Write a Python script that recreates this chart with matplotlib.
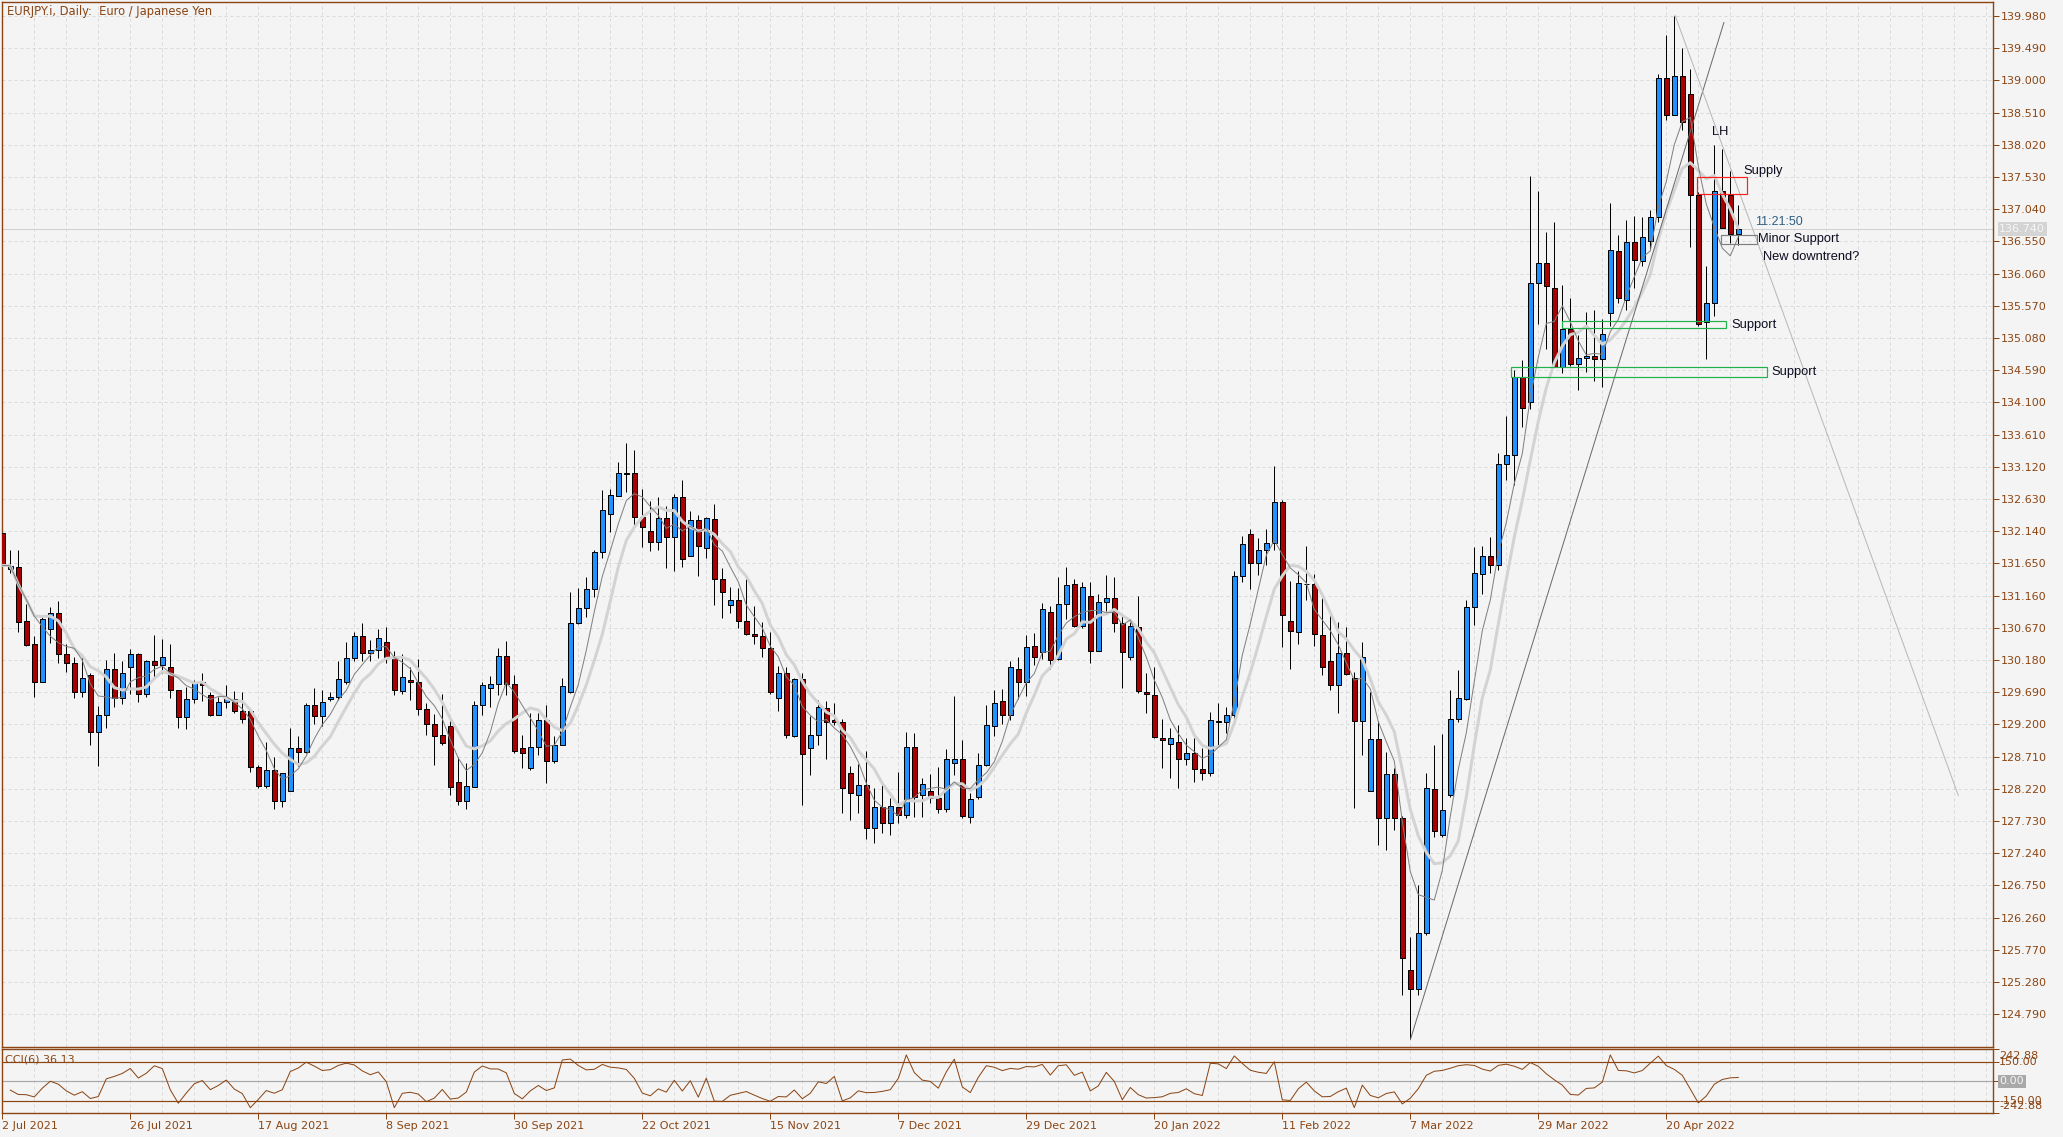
import matplotlib
matplotlib.use("Agg")
import matplotlib.pyplot as plt
import matplotlib.transforms as mtransforms
from matplotlib.patches import Rectangle
import numpy as np
import pandas as pd

# ---------------- data ----------------
opens = [132.12, 131.56, 131.60, 130.77, 130.42, 129.85, 130.65, 130.89, 130.27, 130.13,
         129.70, 129.95, 129.09, 129.35, 130.04, 129.60, 130.07, 130.27, 129.67, 130.16,
         130.11, 130.07, 129.72, 129.32, 129.58, 129.84, 129.65, 129.35, 129.54, 129.58,
         129.41, 129.40, 128.55, 128.27, 128.50, 128.04, 128.18, 128.84, 128.78, 129.49,
         129.33, 129.58, 129.62, 129.85, 130.21, 130.55, 130.28, 130.34, 130.46, 130.22,
         129.71, 129.87, 129.85, 129.43, 129.20, 129.04, 129.18, 128.32, 128.03, 128.25,
         129.49, 129.76, 129.81, 130.24, 129.82, 128.84, 128.54, 128.86, 129.26, 128.65,
         128.88, 129.70, 130.74, 130.97, 131.26, 131.82, 132.40, 132.68, 133.01, 133.02,
         132.36, 132.15, 131.97, 132.34, 132.05, 132.66, 131.77, 132.31, 131.89, 132.32,
         131.42, 131.01, 131.10, 130.78, 130.58, 130.54, 130.37, 129.60, 129.98, 129.02,
         129.89, 128.84, 129.04, 129.45, 129.26, 129.23, 128.46, 128.12, 128.28, 127.62,
         127.95, 127.70, 127.95, 127.82, 128.85, 128.12, 128.18, 128.08, 127.91, 128.62,
         128.67, 127.79, 128.10, 128.59, 129.18, 129.56, 129.35, 130.05, 129.84, 130.40,
         130.30, 130.91, 130.19, 131.04, 131.33, 130.70, 131.16, 130.31, 131.07, 131.13,
         130.75, 130.22, 130.69, 129.69, 129.65, 129.00, 128.90, 128.94, 128.67, 128.77,
         128.52, 128.46, 129.23, 129.23, 129.35, 131.46, 132.10, 131.65, 131.85, 131.96,
         132.59, 130.77, 130.60, 131.33, 131.34, 130.56, 130.17, 129.80, 130.28, 129.91,
         129.25, 128.18, 128.98, 127.78, 128.44, 127.78, 125.47, 125.17, 126.02, 128.22,
         127.51, 128.13, 129.28, 129.59, 130.99, 131.49, 131.76, 131.62, 133.17, 133.30,
         134.49, 134.10, 135.91, 136.22, 135.84, 134.64, 135.21, 134.69, 134.77, 134.81,
         134.76, 135.46, 136.40, 135.66, 136.54, 136.25, 136.55, 136.92, 139.03, 138.48,
         139.07, 138.79, 137.25, 135.32, 135.61, 137.32, 137.26, 136.66]

highs = [132.14, 131.85, 131.85, 131.03, 130.54, 130.84, 130.98, 131.08, 130.42, 130.22,
         130.27, 129.99, 129.48, 130.18, 130.28, 130.17, 130.35, 130.28, 130.18, 130.56,
         130.50, 130.42, 129.73, 129.77, 129.87, 129.98, 129.70, 129.62, 129.80, 129.71,
         129.69, 129.42, 128.58, 128.93, 128.71, 128.46, 129.14, 129.02, 129.52, 129.76,
         129.73, 129.70, 130.17, 130.46, 130.60, 130.74, 130.49, 130.65, 130.69, 130.32,
         130.27, 130.08, 130.19, 129.52, 129.36, 129.66, 129.27, 128.71, 128.61, 129.55,
         129.85, 129.94, 130.37, 130.47, 129.95, 129.04, 129.37, 129.38, 129.50, 129.02,
         129.91, 131.22, 131.27, 131.45, 131.86, 132.77, 132.78, 133.19, 133.48, 133.38,
         132.79, 132.60, 132.66, 132.52, 132.71, 132.92, 132.45, 132.39, 132.36, 132.55,
         131.58, 131.29, 131.27, 131.41, 131.00, 130.76, 130.60, 130.09, 130.08, 129.91,
         129.98, 129.33, 129.57, 129.55, 129.52, 129.28, 128.57, 128.60, 128.79, 128.23,
         128.34, 128.08, 128.47, 129.09, 129.07, 128.39, 128.45, 128.55, 128.83, 129.63,
         128.97, 128.15, 128.76, 129.50, 129.72, 129.74, 130.16, 130.22, 130.56, 130.59,
         131.05, 131.00, 131.45, 131.59, 131.42, 131.36, 131.36, 131.19, 131.47, 131.44,
         130.85, 130.81, 131.16, 129.98, 130.08, 129.29, 129.14, 129.19, 129.00, 129.00,
         128.84, 129.39, 129.53, 129.47, 131.54, 132.07, 132.17, 132.04, 132.17, 133.14,
         132.62, 131.39, 131.54, 131.91, 131.49, 131.12, 130.89, 130.76, 130.68, 130.00,
         130.45, 129.70, 129.25, 128.78, 128.53, 127.80, 125.97, 126.76, 128.46, 128.88,
         129.05, 129.72, 130.03, 131.10, 131.90, 131.92, 132.05, 133.33, 133.89, 134.60,
         134.75, 137.55, 137.32, 136.69, 136.84, 135.89, 135.69, 135.13, 135.48, 135.51,
         135.37, 137.14, 136.65, 136.88, 136.93, 136.92, 137.03, 139.09, 139.69, 139.98,
         139.49, 139.18, 137.30, 136.17, 138.01, 137.96, 137.62, 137.10]

lows = [131.58, 131.51, 130.61, 130.40, 129.61, 129.84, 130.44, 130.13, 130.00, 129.60,
        129.62, 128.88, 128.57, 129.14, 129.47, 129.51, 129.67, 129.54, 129.61, 129.89,
        129.98, 129.60, 129.15, 129.13, 129.53, 129.56, 129.33, 129.34, 129.45, 129.38,
        129.22, 128.48, 128.23, 128.23, 127.92, 127.94, 128.18, 128.57, 128.76, 129.21,
        129.17, 129.56, 129.57, 129.82, 130.16, 130.16, 130.16, 130.21, 130.14, 129.65,
        129.66, 129.57, 129.34, 129.04, 128.58, 128.89, 128.13, 127.97, 127.91, 128.25,
        129.34, 129.47, 129.65, 129.65, 128.77, 128.53, 128.50, 128.73, 128.31, 128.61,
        128.88, 129.68, 130.73, 130.84, 131.14, 131.74, 132.13, 132.67, 132.73, 132.23,
        131.90, 131.84, 131.85, 131.58, 131.54, 131.60, 131.77, 131.46, 131.74, 131.01,
        130.82, 130.89, 130.67, 130.56, 130.42, 130.22, 129.67, 129.40, 128.99, 129.01,
        127.97, 128.43, 128.89, 128.68, 129.19, 127.85, 127.75, 127.85, 127.45, 127.40,
        127.55, 127.52, 127.70, 127.77, 127.79, 127.79, 128.00, 127.85, 127.87, 128.43,
        127.77, 127.70, 128.06, 128.57, 129.02, 129.21, 129.27, 129.59, 129.64, 130.11,
        130.20, 130.05, 130.18, 130.81, 130.69, 130.66, 130.14, 130.31, 130.93, 130.61,
        129.76, 130.18, 129.68, 129.38, 129.00, 128.54, 128.39, 128.24, 128.58, 128.32,
        128.35, 128.41, 128.87, 129.07, 129.20, 131.37, 131.26, 131.47, 131.62, 131.86,
        130.38, 130.05, 130.42, 131.10, 130.40, 129.95, 129.73, 129.37, 129.95, 127.93,
        128.73, 128.18, 127.36, 127.29, 127.59, 125.09, 124.42, 125.09, 126.00, 127.49,
        127.49, 128.10, 129.23, 129.57, 130.72, 131.18, 131.50, 131.55, 132.92, 132.85,
        133.72, 134.00, 135.30, 134.91, 134.64, 134.55, 134.65, 134.29, 134.57, 134.42,
        134.34, 135.26, 135.61, 135.51, 135.84, 136.17, 136.44, 136.84, 138.39, 138.48,
        138.25, 136.47, 135.27, 134.76, 135.42, 136.76, 136.52, 136.50]

closes = [131.62, 131.61, 130.76, 130.41, 129.85, 130.80, 130.89, 130.27, 130.13, 129.70,
          129.90, 129.09, 129.35, 130.04, 129.60, 129.98, 130.27, 129.67, 130.16, 130.11,
          130.22, 129.72, 129.32, 129.58, 129.85, 129.80, 129.35, 129.54, 129.60, 129.41,
          129.28, 128.55, 128.27, 128.50, 128.04, 128.46, 128.84, 128.78, 129.49, 129.33,
          129.54, 129.62, 129.89, 130.21, 130.55, 130.28, 130.34, 130.52, 130.23, 129.72,
          129.92, 129.85, 129.43, 129.20, 129.03, 128.92, 128.25, 128.03, 128.26, 129.50,
          129.80, 129.81, 130.24, 129.82, 128.80, 128.77, 128.86, 129.26, 128.65, 128.88,
          129.79, 130.74, 130.97, 131.26, 131.82, 132.47, 132.69, 133.02, 133.03, 132.35,
          132.21, 131.97, 132.34, 132.05, 132.66, 131.71, 132.31, 131.91, 132.34, 131.42,
          131.21, 131.10, 130.78, 130.57, 130.54, 130.36, 129.70, 129.98, 129.04, 129.89,
          128.75, 129.04, 129.46, 129.24, 129.24, 128.24, 128.15, 128.28, 127.62, 127.95,
          127.70, 127.96, 127.82, 128.85, 128.10, 128.29, 128.08, 127.91, 128.68, 128.67,
          127.80, 128.06, 128.59, 129.19, 129.52, 129.35, 130.07, 129.84, 130.38, 130.23,
          130.95, 130.18, 131.04, 131.32, 130.70, 131.29, 130.31, 131.07, 131.13, 130.75,
          130.30, 130.70, 129.71, 129.66, 129.01, 128.97, 129.00, 128.67, 128.77, 128.52,
          128.46, 129.26, 129.25, 129.35, 131.46, 131.95, 131.65, 131.86, 131.96, 132.59,
          130.87, 130.62, 131.35, 131.34, 130.57, 130.07, 129.80, 130.28, 129.97, 129.25,
          130.23, 128.98, 127.78, 128.44, 127.78, 125.64, 125.17, 126.02, 128.23, 127.58,
          127.90, 129.28, 129.60, 130.99, 131.50, 131.76, 131.62, 133.17, 133.30, 134.49,
          134.02, 135.91, 136.22, 135.87, 134.64, 135.21, 134.69, 134.77, 134.80, 134.76,
          135.14, 136.42, 135.69, 136.54, 136.27, 136.61, 136.92, 139.03, 138.48, 139.07,
          138.36, 137.25, 135.30, 135.61, 137.32, 136.76, 136.66, 136.74]

date_labels = ["2 Jul 2021", "26 Jul 2021", "17 Aug 2021", "8 Sep 2021", "30 Sep 2021",
               "22 Oct 2021", "15 Nov 2021", "7 Dec 2021", "29 Dec 2021", "20 Jan 2022",
               "11 Feb 2022", "7 Mar 2022", "29 Mar 2022", "20 Apr 2022"]
date_label_bars = [0, 16, 32, 48, 64, 80, 96, 112, 128, 144, 160, 176, 192, 208]

price_tick_labels = ["124.790", "125.280", "125.770", "126.260", "126.750", "127.240",
                     "127.730", "128.220", "128.710", "129.200", "129.690", "130.180",
                     "130.670", "131.160", "131.650", "132.140", "132.630", "133.120",
                     "133.610", "134.100", "134.590", "135.080", "135.570", "136.060",
                     "136.550", "137.040", "137.530", "138.020", "138.510", "139.000",
                     "139.490", "139.980"]

current_price = 136.740
cci_period = 6
cci_levels = [150.0, -150.0]
cci_limit = 242.88
cci_title = "CCI(6) 36.13"
title = "EURJPY.i, Daily:  Euro / Japanese Yen"

# annotations (bar index / price)
supply_zone = (211.8, 218.05, 137.27, 137.535)
support_zone_1 = (194.9, 215.4, 135.23, 135.34)
support_zone_2 = (188.6, 220.55, 134.49, 134.635)
minor_support_zone = (214.8, 219.3, 136.505, 136.64)
uptrend_line = ([176.05, 215.2], [124.42, 139.88])
downtrend_line = ([209.1, 244.5], [139.99, 128.12])

# ---------------- styling ----------------
BG = "#f4f4f4"
BROWN = "#8b4513"
GRID = "#d9d9d9"
BLUE = "#1e90ff"
RED = "#a80000"
PX = 0.72  # one pixel in points at dpi 100

W, H = 2063, 1137
plt.rcParams['font.family'] = ['DejaVu Sans']
fig = plt.figure(figsize=(W / 100, H / 100), dpi=100, facecolor=BG)

def ax_rect(x0, y0, x1, y1):
    return [x0 / W, 1 - y1 / H, (x1 - x0) / W, (y1 - y0) / H]

ax = fig.add_axes(ax_rect(2.3, 2.3, 1993.3, 1047))
axc = fig.add_axes(ax_rect(2.3, 1049.3, 1993.3, 1113.3))

n = len(closes)
x = np.arange(n)
o = np.array(opens); h = np.array(highs); l = np.array(lows); c = np.array(closes)
xmax = (1993.3 - 2.3) / 8.0

for a in (ax, axc):
    a.set_facecolor(BG)
    for s in a.spines.values():
        s.set_color(BROWN)
        s.set_linewidth(1.4 * PX)
    a.set_xlim(0, xmax)

# main panel
ax.set_ylim(124.2915, 140.1885)
ptick_vals = [float(t) for t in price_tick_labels]
ax.yaxis.tick_right()
ax.set_yticks(ptick_vals)
ax.set_yticklabels(price_tick_labels)
ax.tick_params(axis='y', direction='out', length=4, width=PX, colors=BROWN,
               labelsize=8, pad=1.5)
ax.set_xticks(np.arange(4, xmax, 4))
ax.set_xticklabels([])
ax.tick_params(axis='x', length=0)
ax.grid(True, color=GRID, linestyle=(0, (3, 3)), linewidth=PX)
ax.set_axisbelow(True)

ax.axhline(current_price, color="#d0d0d0", lw=PX, zorder=1.5)

# candles
ax.vlines(x, l, h, color="black", lw=PX, zorder=2)
colors = [BLUE if cc >= oo else RED for oo, cc in zip(o, c)]
ax.bar(x, np.abs(c - o), bottom=np.minimum(o, c), width=0.62, color=colors,
       edgecolor="black", linewidth=PX, zorder=3)

# moving averages
cs = pd.Series(c)
ma_slow = cs.rolling(8, min_periods=1).mean()
ma_fast = cs.rolling(5, min_periods=1).mean()
ax.plot(x, ma_slow, color="#d3d3d3", lw=3 * PX, zorder=4, solid_capstyle='round')
ax.plot(x, ma_fast, color="#808080", lw=PX, zorder=4.5)

# trend lines
ax.plot(*uptrend_line, color="#6a6a6a", lw=PX, zorder=5)
ax.plot(*downtrend_line, color="#b8b8b8", lw=PX, zorder=5)

def zone(z, col):
    ax.add_patch(Rectangle((z[0], z[2]), z[1] - z[0], z[3] - z[2], fill=False,
                           edgecolor=col, lw=1.2 * PX, zorder=5))
zone(supply_zone, "#ff2020")
zone(support_zone_1, "#22b14c")
zone(support_zone_2, "#22b14c")
zone(minor_support_zone, "#808080")

TXT = "#0c0c20"
afont = dict(family=['Liberation Sans', 'DejaVu Sans'], fontsize=9.3, color=TXT,
             va='center', ha='left', zorder=6)
ax.text(213.7, 138.215, "LH", **afont)
ax.text(217.7, 137.62, "Supply", **afont)
ax.text(216.2, 135.278, "Support", **afont)
ax.text(221.1, 134.56, "Support", **afont)
ax.text(219.5, 136.587, "Minor Support", **afont)
ax.text(220.1, 136.31, "New downtrend?", **afont)
ax.text(219.1, 136.845, "11:21:50", family=['Liberation Sans', 'DejaVu Sans'],
        fontsize=9.0, color="#2f5f84", va='center', ha='left', zorder=6)

# current price label on axis
trans_main = mtransforms.blended_transform_factory(ax.transAxes, ax.transData)
ax.text(1 + 6 / 1991, current_price, "136.740", transform=trans_main, fontsize=8,
        color="#f6f6f6", va='center', ha='left', clip_on=False, zorder=10,
        bbox=dict(boxstyle="square,pad=0.15", facecolor="#d4d4d4", edgecolor="none"))

# title
fig.text(7.3 / W, 1 - 12 / H, title, fontsize=8.3, color=BROWN, va='center', ha='left')

# CCI panel
tp = (pd.Series(h) + pd.Series(l) + cs) / 3.0
sma_tp = tp.rolling(cci_period, min_periods=2).mean()
md = tp.rolling(cci_period, min_periods=2).apply(lambda v: np.mean(np.abs(v - v.mean())), raw=True)
cci = (tp - sma_tp) / (0.015 * md)
axc.set_ylim(-cci_limit, cci_limit)
for lv in cci_levels:
    axc.axhline(lv, color=BROWN, lw=1.2 * PX, zorder=2)
axc.axhline(0, color="#a8a8a8", lw=1.2 * PX, zorder=2)
axc.plot(x, cci, color=BROWN, lw=PX, zorder=3, clip_on=True)

axc.set_xticks(date_label_bars)
axc.set_xticklabels(date_labels)
axc.set_xticks(np.arange(4, xmax, 4), minor=True)
axc.tick_params(axis='x', which='major', direction='out', length=4, width=PX,
                colors=BROWN, labelsize=8, pad=1.5)
axc.tick_params(axis='x', which='minor', length=0)
for lbl in axc.get_xticklabels():
    lbl.set_ha('left')
axc.grid(True, axis='x', which='both', color=GRID, linestyle=(0, (3, 3)), linewidth=PX)
axc.set_axisbelow(True)
axc.yaxis.tick_right()
axc.set_yticks([-cci_limit, -150, 0, 150, cci_limit])
axc.set_yticklabels([])
axc.tick_params(axis='y', direction='out', length=4, width=PX, colors=BROWN)

trans_c = mtransforms.blended_transform_factory(axc.transAxes, axc.transData)
lx = 1 + 6 / 1991
t_top = mtransforms.offset_copy(trans_c, fig=fig, x=0, y=-6.5, units='dots')
t_bot = mtransforms.offset_copy(trans_c, fig=fig, x=0, y=7.5, units='dots')
axc.text(lx, cci_limit, "242.88", transform=t_top, fontsize=8, color=BROWN,
         va='center', ha='left', clip_on=False)
axc.text(lx, 150, "150.00", transform=trans_c, fontsize=8, color=BROWN,
         va='center', ha='left', clip_on=False)
axc.text(lx, -150, "-150.00", transform=trans_c, fontsize=8, color=BROWN,
         va='center', ha='left', clip_on=False)
axc.text(lx, -cci_limit, "-242.88", transform=t_bot, fontsize=8, color=BROWN,
         va='center', ha='left', clip_on=False)
axc.text(lx, 0, "0.00", transform=trans_c, fontsize=8, color="#f6f6f6",
         va='center', ha='left', clip_on=False, zorder=10,
         bbox=dict(boxstyle="square,pad=0.15", facecolor="#a9a9a9", edgecolor="none"))

fig.text(5 / W, 1 - 1060 / H, cci_title, fontsize=8, color=BROWN, va='center', ha='left')

fig.savefig("out.png", dpi=100, facecolor=BG)
